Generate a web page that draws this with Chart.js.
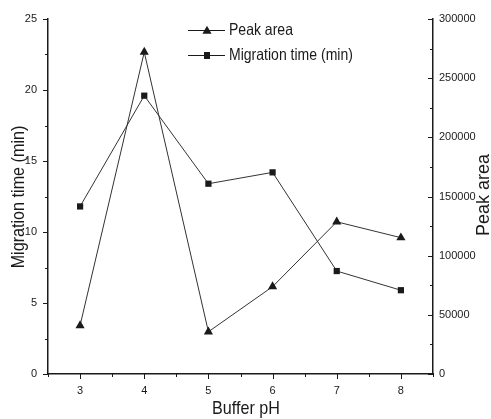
<!DOCTYPE html>
<html>
<head>
<meta charset="utf-8">
<script src="https://cdn.jsdelivr.net/npm/chart.js@4.4.0/dist/chart.umd.min.js"></script>
<style>
html,body{margin:0;padding:0;background:#fff;}
#wrap{width:491px;height:419px;position:relative;}
</style>
</head>
<body>
<div id="wrap"><canvas id="c" width="491" height="419"></canvas></div>
<script>
// ---- data ----
const bufferPH = [3, 4, 5, 6, 7, 8];
const peakArea = [41000, 272000, 35700, 73800, 128600, 115200];
const migrationTime = [11.8, 19.6, 13.4, 14.2, 7.25, 5.9];
const xTicks = [3, 4, 5, 6, 7, 8];
const leftTicks = [0, 5, 10, 15, 20, 25];
const rightTicks = [0, 50000, 100000, 150000, 200000, 250000, 300000];
const seriesLabels = ['Peak area', 'Migration time (min)'];
const axisTitles = {x: 'Buffer pH', left: 'Migration time (min)', right: 'Peak area'};

const FONT = '"Liberation Sans", Arial, sans-serif';
const INK = '#1a1a1a';

function pts(xs, ys){ return xs.map((x,i)=>({x:x, y:ys[i]})); }

function tri(ctx, x, y, r){
  ctx.beginPath();
  ctx.moveTo(x, y - r);
  ctx.lineTo(x + r*0.866, y + r*0.5);
  ctx.lineTo(x - r*0.866, y + r*0.5);
  ctx.closePath(); ctx.fill();
}

// draw horizontally condensed text
function narrowText(ctx, text, x, y, rot, size, squeeze, align){
  ctx.save();
  ctx.translate(x, y);
  if (rot) ctx.rotate(rot);
  ctx.scale(squeeze, 1);
  ctx.font = size + 'px ' + FONT;
  ctx.textAlign = align; ctx.textBaseline = 'middle';
  ctx.fillText(text, 0, 0);
  ctx.restore();
}

const decor = {
  id: 'decor',
  afterDraw(chart){
    const ctx = chart.ctx;
    const xs = chart.scales.x, yl = chart.scales.yL, yr = chart.scales.yR;
    const a = chart.chartArea;
    ctx.save();
    ctx.strokeStyle = INK; ctx.lineWidth = 1;
    // x ticks (major + minor)
    for (let v = 2.5; v <= 8.5001; v += 0.5){
      const px = Math.round(xs.getPixelForValue(v)) + 0.5;
      const major = Math.abs(v - Math.round(v)) < 1e-6;
      ctx.beginPath(); ctx.moveTo(px, a.bottom); ctx.lineTo(px, a.bottom + (major ? 5 : 3)); ctx.stroke();
    }
    // left ticks
    for (let v = 0; v <= 25.001; v += 2.5){
      const py = Math.round(yl.getPixelForValue(v)) + 0.5;
      const major = Math.abs(v/5 - Math.round(v/5)) < 1e-6;
      ctx.beginPath(); ctx.moveTo(a.left, py); ctx.lineTo(a.left - (major ? 5 : 3), py); ctx.stroke();
    }
    // right ticks (inward)
    for (let v = 0; v <= 300000.1; v += 25000){
      const py = Math.round(yr.getPixelForValue(v)) + 0.5;
      const major = Math.abs(v/50000 - Math.round(v/50000)) < 1e-6;
      ctx.beginPath(); ctx.moveTo(a.right, py); ctx.lineTo(a.right - (major ? 5 : 3), py); ctx.stroke();
    }
    // axis titles
    ctx.fillStyle = INK;
    narrowText(ctx, axisTitles.x, 246, 409, 0, 19, 0.85, 'center');
    narrowText(ctx, axisTitles.left, 19, 197, -Math.PI/2, 19, 0.85, 'center');
    narrowText(ctx, axisTitles.right, 484, 195, -Math.PI/2, 18, 1.0, 'center');
    // legend
    const rows = [{y: 30, shape: 'tri'}, {y: 55, shape: 'sq'}];
    rows.forEach((r, i) => {
      ctx.beginPath(); ctx.moveTo(188, r.y + 0.5); ctx.lineTo(225, r.y + 0.5); ctx.stroke();
      if (r.shape === 'tri') tri(ctx, 207, r.y + 1, 5.3);
      else ctx.fillRect(204, r.y - 3, 6, 7);
      narrowText(ctx, chart.data.datasets[i].label, 229, r.y, 0, 16.5, 0.85, 'left');
    });
    ctx.restore();
  }
};

const tickFont = {family: FONT, size: 11};

new Chart(document.getElementById('c'), {
  type: 'line',
  data: {
    datasets: [
      {
        label: seriesLabels[0],
        data: pts(bufferPH, peakArea),
        yAxisID: 'yR',
        borderColor: '#333', borderWidth: 1,
        pointStyle: 'triangle', pointRadius: 5.3,
        pointBackgroundColor: INK, pointBorderColor: INK, pointBorderWidth: 0,
        tension: 0
      },
      {
        label: seriesLabels[1],
        data: pts(bufferPH, migrationTime),
        yAxisID: 'yL',
        borderColor: '#333', borderWidth: 1,
        pointStyle: 'rect', pointRadius: 4.4,
        pointBackgroundColor: INK, pointBorderColor: INK, pointBorderWidth: 0,
        tension: 0
      }
    ]
  },
  options: {
    responsive: false,
    animation: false,
    devicePixelRatio: 1,
    layout: {padding: {top: 19, left: 0, right: 0, bottom: 0}},
    plugins: {legend: {display: false}, tooltip: {enabled: false}},
    scales: {
      x: {
        type: 'linear', min: 2.5, max: 8.5,
        afterBuildTicks: s => { s.ticks = xTicks.map(v => ({value: v})); },
        afterFit: s => { s.height = 45; },
        grid: {display: false, drawTicks: false},
        border: {display: true, color: INK, width: 1.5},
        ticks: {padding: 10, color: INK, font: tickFont, maxRotation: 0, autoSkip: false}
      },
      yL: {
        type: 'linear', position: 'left', min: 0, max: 25,
        afterBuildTicks: s => { s.ticks = leftTicks.map(v => ({value: v})); },
        afterFit: s => { s.width = 48; },
        grid: {display: false, drawTicks: false},
        border: {display: true, color: INK, width: 1.5},
        ticks: {padding: 11, color: INK, font: tickFont, autoSkip: false}
      },
      yR: {
        type: 'linear', position: 'right', min: 0, max: 300000,
        afterBuildTicks: s => { s.ticks = rightTicks.map(v => ({value: v})); },
        afterFit: s => { s.width = 58; },
        grid: {display: false, drawTicks: false},
        border: {display: true, color: INK, width: 1.5},
        ticks: {padding: 6, color: INK, font: tickFont, autoSkip: false,
                callback: v => String(v)}
      }
    }
  },
  plugins: [decor]
});
</script>
</body>
</html>
